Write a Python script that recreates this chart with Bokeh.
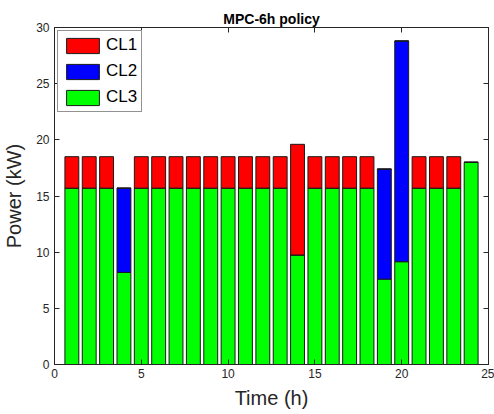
from bokeh.plotting import figure
from bokeh.models import ColumnDataSource, Legend, LegendItem, LinearAxis, FixedTicker, Range1d
from bokeh.embed import file_html
from bokeh.resources import INLINE

hours = list(range(1, 25))
cl3 = [15.7, 15.7, 15.7, 8.2, 15.7, 15.7, 15.7, 15.7, 15.7, 15.7, 15.7, 15.7,
       15.7, 9.75, 15.7, 15.7, 15.7, 15.7, 7.6, 9.15, 15.7, 15.7, 15.7, 18.0]
cl2 = [0, 0, 0, 7.5, 0, 0, 0, 0, 0, 0, 0, 0,
       0, 0, 0, 0, 0, 0, 9.8, 19.65, 0, 0, 0, 0]
cl1 = [2.8, 2.8, 2.8, 0, 2.8, 2.8, 2.8, 2.8, 2.8, 2.8, 2.8, 2.8,
       2.8, 9.85, 2.8, 2.8, 2.8, 2.8, 0, 0, 2.8, 2.8, 2.8, 0]
x_ticks = [0, 5, 10, 15, 20, 25]
y_ticks = [0, 5, 10, 15, 20, 25, 30]

src = ColumnDataSource(dict(x=hours, CL3=cl3, CL2=cl2, CL1=cl1))

FONT = "Liberation Sans"
TXT = "#262626"

p = figure(width=494, height=414, output_backend="svg", toolbar_location=None,
           x_range=Range1d(0, 25), y_range=Range1d(0, 30),
           min_border_left=54, min_border_right=6, min_border_top=27, min_border_bottom=50)

renderers = p.vbar_stack(["CL3", "CL2", "CL1"], x="x", width=0.8, source=src,
                         fill_color=["#00ff00", "#0000ff", "#ff0000"],
                         line_color="#1a1a1a", line_width=1)

p.title.text = "MPC-6h policy"
p.title.text_font = FONT
p.title.text_font_size = "14px"
p.title.text_font_style = "bold"
p.title.align = "center"
p.title.text_color = "#000000"
p.title.standoff = 2

p.xgrid.visible = False
p.ygrid.visible = False
p.outline_line_color = TXT
p.outline_line_width = 1

for ax, ticks in ((p.xaxis[0], x_ticks), (p.yaxis[0], y_ticks)):
    ax.ticker = FixedTicker(ticks=ticks)
    ax.major_tick_in = 5
    ax.major_tick_out = 0
    ax.minor_tick_in = 0
    ax.minor_tick_out = 0
    ax.axis_line_color = TXT
    ax.major_tick_line_color = TXT
    ax.major_label_text_font = FONT
    ax.major_label_text_font_size = "12px"
    ax.major_label_text_color = TXT
    ax.axis_label_text_font = FONT
    ax.axis_label_text_font_size = "20px"
    ax.axis_label_text_font_style = "normal"
    ax.axis_label_text_color = TXT

p.xaxis[0].axis_label = "Time (h)"
p.yaxis[0].axis_label = "Power (kW)"
p.xaxis[0].major_label_standoff = 4
p.yaxis[0].major_label_standoff = 5
p.xaxis[0].axis_label_standoff = 6
p.yaxis[0].axis_label_standoff = 8

# box-style ticks on top and right (minor ticks only, so no labels)
for side, ticks in (("above", x_ticks), ("right", y_ticks)):
    ax = LinearAxis(ticker=FixedTicker(ticks=[], minor_ticks=ticks))
    ax.major_tick_in = 0
    ax.major_tick_out = 0
    ax.minor_tick_in = 5
    ax.minor_tick_out = 0
    ax.axis_line_color = TXT
    ax.minor_tick_line_color = TXT
    ax.minor_tick_line_width = 1
    p.add_layout(ax, side)

legend = Legend(items=[LegendItem(label="CL1", renderers=[renderers[2]]),
                       LegendItem(label="CL2", renderers=[renderers[1]]),
                       LegendItem(label="CL3", renderers=[renderers[0]])],
                location="top_left")
legend.margin = 3
legend.padding = 4
legend.spacing = 6
legend.glyph_width = 41
legend.glyph_height = 19
legend.label_height = 19
legend.label_standoff = 3
legend.label_text_font = FONT
legend.label_text_font_size = "17px"
legend.label_text_color = "#000000"
legend.border_line_color = TXT
legend.border_line_width = 1
legend.background_fill_color = "white"
legend.background_fill_alpha = 1
p.add_layout(legend)

open("out.html", "w").write(file_html(p, INLINE))
